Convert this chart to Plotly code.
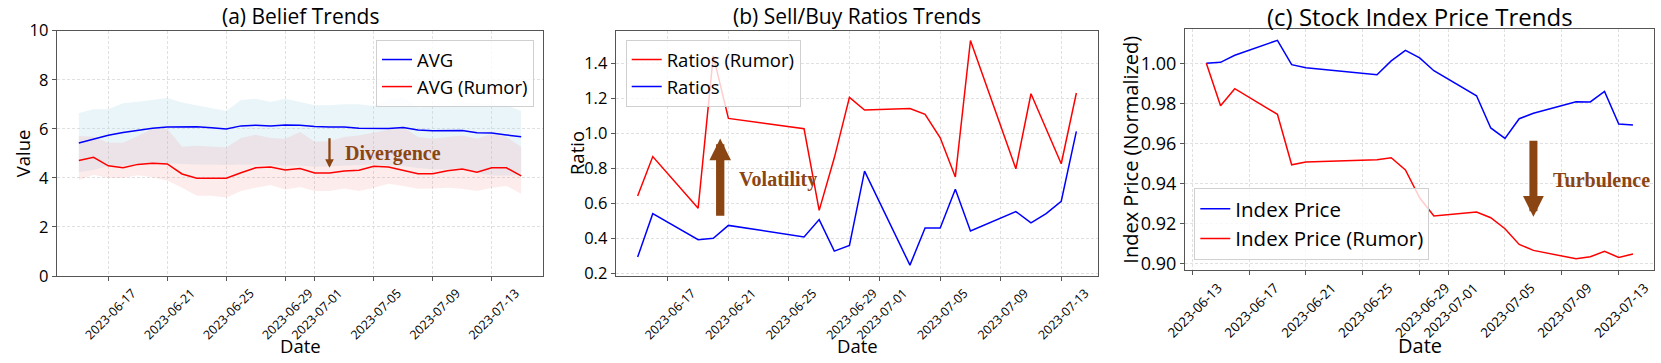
import plotly.graph_objects as go

# ---------------- data ----------------
DATES_A = [
    '2023-06-15', '2023-06-16', '2023-06-17', '2023-06-18', '2023-06-19', '2023-06-20',
    '2023-06-21', '2023-06-22', '2023-06-23', '2023-06-24', '2023-06-25', '2023-06-26',
    '2023-06-27', '2023-06-28', '2023-06-29', '2023-06-30', '2023-07-01', '2023-07-02',
    '2023-07-03', '2023-07-04', '2023-07-05', '2023-07-06', '2023-07-07', '2023-07-08',
    '2023-07-09', '2023-07-10', '2023-07-11', '2023-07-12', '2023-07-13', '2023-07-14',
    '2023-07-15',
]
AVG = [5.42, 5.58, 5.74, 5.85, 5.95, 6.02, 6.07, 6.08, 6.08, 6.04, 5.99, 6.12, 6.15, 6.12, 6.16,
       6.15, 6.09, 6.07, 6.07, 6.02, 6.01, 6.01, 6.05, 5.95, 5.92, 5.91, 5.93, 5.84, 5.83, 5.75, 5.68]
AVG_UPPER = [6.64, 6.80, 6.80, 7.04, 7.10, 7.17, 7.26, 7.07, 6.96, 6.87, 6.73, 7.17, 7.23, 7.09, 7.23,
             7.09, 6.96, 6.96, 7.00, 7.00, 6.93, 7.20, 7.30, 6.87, 6.93, 6.93, 7.04, 7.04, 7.00, 6.96, 6.73]
AVG_LOWER = [4.24, 4.32, 4.49, 4.50, 4.55, 4.60, 4.60, 4.57, 4.55, 4.55, 4.52, 4.55, 4.55, 4.52, 4.50,
             4.50, 4.45, 4.48, 4.50, 4.52, 4.55, 4.50, 4.48, 4.40, 4.35, 4.35, 4.40, 4.20, 4.10, 4.10, 4.12]
AVG_RUMOR = [4.71, 4.84, 4.49, 4.41, 4.55, 4.60, 4.57, 4.16, 3.99, 3.99, 3.99, 4.21, 4.41, 4.44, 4.32,
             4.38, 4.20, 4.20, 4.28, 4.31, 4.47, 4.44, 4.29, 4.17, 4.17, 4.29, 4.36, 4.23, 4.41, 4.41, 4.08]
RUMOR_UPPER = [5.71, 5.68, 5.43, 5.43, 5.71, 6.00, 6.00, 5.27, 5.31, 5.27, 5.24, 5.63, 5.76, 5.63, 5.60,
               5.87, 5.47, 5.49, 5.67, 5.73, 5.84, 5.93, 6.07, 5.67, 5.60, 5.67, 5.73, 5.60, 5.80, 5.67, 5.27]
RUMOR_LOWER = [3.90, 4.13, 4.00, 4.00, 4.11, 4.03, 3.89, 3.60, 3.27, 3.27, 3.20, 3.47, 3.60, 3.71, 3.53,
               3.63, 3.47, 3.47, 3.57, 3.47, 3.60, 3.76, 3.67, 3.56, 3.57, 3.60, 3.56, 3.47, 3.60, 3.67, 3.35]

DATES_B = [
    '2023-06-15', '2023-06-16', '2023-06-19', '2023-06-20', '2023-06-21', '2023-06-26',
    '2023-06-27', '2023-06-28', '2023-06-29', '2023-06-30', '2023-07-03', '2023-07-04',
    '2023-07-05', '2023-07-06', '2023-07-07', '2023-07-10', '2023-07-11', '2023-07-12',
    '2023-07-13', '2023-07-14',
]
RATIOS_RUMOR = [0.642, 0.867, 0.572, 1.442, 1.085, 1.026, 0.560, 0.86, 1.205, 1.133,
                1.142, 1.108, 0.974, 0.751, 1.530, 0.797, 1.226, 1.03, 0.826, 1.230]
RATIOS = [0.293, 0.541, 0.392, 0.400, 0.474, 0.408, 0.507, 0.327, 0.360, 0.784,
          0.247, 0.459, 0.459, 0.680, 0.442, 0.553, 0.488, 0.541, 0.612, 1.011]

DATES_C = ['2023-06-14'] + DATES_B
INDEX_PRICE = [1.000, 1.0005, 1.004, 1.0115, 0.9993, 0.9978, 0.9943, 1.0012, 1.0065, 1.0027, 0.9963,
               0.9838, 0.9677, 0.9625, 0.9723, 0.9750, 0.9808, 0.9807, 0.9860, 0.9697, 0.9692]
INDEX_RUMOR = [1.000, 0.9788, 0.9873, 0.9745, 0.9493, 0.9507, 0.9518, 0.9528, 0.9467, 0.9328, 0.9237,
               0.9257, 0.9228, 0.9173, 0.9095, 0.9065, 0.9023, 0.9033, 0.9060, 0.9030, 0.9047]

TICK_DATES = ['2023-06-13', '2023-06-17', '2023-06-21', '2023-06-25', '2023-06-29',
              '2023-07-01', '2023-07-05', '2023-07-09', '2023-07-13']

# ---------------- layout constants ----------------
W, H = 1661, 363
FONT = 'Open Sans'
BROWN = '#8B4513'
SPINE = '#555555'
GRID = '#e0e0e0'


def px_x(v):
    return v / W


def px_y(v):
    return (H - v) / H


# panel boxes in pixels: (left, right, top, bottom)
BOX_A = (56.7, 543.3, 30.7, 276.0)
BOX_B = (615.7, 1098.3, 30.7, 276.0)
BOX_C = (1185.0, 1654.3, 29.3, 270.0)

# per-panel font sizes
SIZES_AB = dict(title=21, label=18.5, ytick=16.5, xtick=12.5, legend=18.5)
SIZES_C = dict(title=24, label=20, ytick=18, xtick=13.4, legend=20.5)

fig = go.Figure()

# (a) belief bands + lines
fig.add_trace(go.Scatter(x=DATES_A, y=AVG_LOWER, mode='lines', line=dict(width=0),
                         showlegend=False, hoverinfo='skip', xaxis='x', yaxis='y'))
fig.add_trace(go.Scatter(x=DATES_A, y=AVG_UPPER, mode='lines', line=dict(width=0),
                         fill='tonexty', fillcolor='rgba(173,216,230,0.25)',
                         showlegend=False, hoverinfo='skip', xaxis='x', yaxis='y'))
fig.add_trace(go.Scatter(x=DATES_A, y=RUMOR_LOWER, mode='lines', line=dict(width=0),
                         showlegend=False, hoverinfo='skip', xaxis='x', yaxis='y'))
fig.add_trace(go.Scatter(x=DATES_A, y=RUMOR_UPPER, mode='lines', line=dict(width=0),
                         fill='tonexty', fillcolor='rgba(240,128,128,0.15)',
                         showlegend=False, hoverinfo='skip', xaxis='x', yaxis='y'))
fig.add_trace(go.Scatter(x=DATES_A, y=AVG, mode='lines', name='AVG',
                         line=dict(color='blue', width=1.5), xaxis='x', yaxis='y', legend='legend'))
fig.add_trace(go.Scatter(x=DATES_A, y=AVG_RUMOR, mode='lines', name='AVG (Rumor)',
                         line=dict(color='red', width=1.5), xaxis='x', yaxis='y', legend='legend'))

# (b) sell/buy ratios
fig.add_trace(go.Scatter(x=DATES_B, y=RATIOS_RUMOR, mode='lines', name='Ratios (Rumor)',
                         line=dict(color='red', width=1.5), xaxis='x2', yaxis='y2', legend='legend2'))
fig.add_trace(go.Scatter(x=DATES_B, y=RATIOS, mode='lines', name='Ratios',
                         line=dict(color='blue', width=1.5), xaxis='x2', yaxis='y2', legend='legend2'))

# (c) index price
fig.add_trace(go.Scatter(x=DATES_C, y=INDEX_PRICE, mode='lines', name='Index Price',
                         line=dict(color='blue', width=1.5), xaxis='x3', yaxis='y3', legend='legend3'))
fig.add_trace(go.Scatter(x=DATES_C, y=INDEX_RUMOR, mode='lines', name='Index Price (Rumor)',
                         line=dict(color='red', width=1.5), xaxis='x3', yaxis='y3', legend='legend3'))


def xaxis_style(box, rng, anchor, size, shift):
    return dict(
        domain=[px_x(box[0]), px_x(box[1])], anchor=anchor, type='date', range=rng,
        tickvals=TICK_DATES, tickformat='%Y-%m-%d', tickangle=-45, ticklabelshift=shift,
        tickfont=dict(size=size, color='black', family=FONT),
        ticks='outside', ticklen=4, tickcolor=SPINE,
        showgrid=True, gridcolor=GRID, griddash='3px,2px', gridwidth=0.8,
        showline=True, mirror=True, linecolor=SPINE, linewidth=1,
        zeroline=False, automargin=False, fixedrange=True,
    )


def yaxis_style(box, rng, anchor, dtick, fmt, size):
    return dict(
        domain=[px_y(box[3]), px_y(box[2])], anchor=anchor, range=rng,
        dtick=dtick, tickformat=fmt,
        tickfont=dict(size=size, color='black', family=FONT),
        ticks='outside', ticklen=4, tickcolor=SPINE,
        showgrid=True, gridcolor=GRID, griddash='3px,2px', gridwidth=0.8,
        showline=True, mirror=True, linecolor=SPINE, linewidth=1,
        zeroline=False, automargin=False, fixedrange=True,
    )


def legend_style(size, **pos):
    return dict(
        font=dict(size=size, color='black', family=FONT),
        bgcolor='rgba(255,255,255,0.8)', bordercolor='#d0d0d0', borderwidth=1,
        xref='paper', yref='paper', traceorder='normal', **pos,
    )


annotations = []
panels = [
    (BOX_A, '(a) Belief Trends', 22, 'Value', SIZES_AB),
    (BOX_B, '(b) Sell/Buy Ratios Trends', 576.7, 'Ratio', SIZES_AB),
    (BOX_C, '(c) Stock Index Price Trends', 1131, 'Index Price (Normalized)', SIZES_C),
]
for box, title, ylab_x, ylab, sz in panels:
    xc = (box[0] + box[1]) / 2
    annotations.append(dict(text=title, x=px_x(xc), y=px_y(16.5),
                            xref='paper', yref='paper', xanchor='center', yanchor='middle',
                            showarrow=False, font=dict(size=sz['title'], color='black', family=FONT)))
    annotations.append(dict(text='Date', x=px_x(xc), y=px_y(345),
                            xref='paper', yref='paper', xanchor='center', yanchor='middle',
                            showarrow=False, font=dict(size=sz['label'], color='black', family=FONT)))
    annotations.append(dict(text=ylab, x=px_x(ylab_x), y=px_y((box[2] + box[3]) / 2),
                            xref='paper', yref='paper', xanchor='center', yanchor='middle',
                            textangle=-90, showarrow=False,
                            font=dict(size=sz['label'], color='black', family=FONT)))

label_font = dict(size=20, color=BROWN, family='Liberation Serif, Times New Roman, serif', weight='bold')

# (a) divergence arrow + label
annotations.append(dict(x='2023-07-02', y=4.41, ax='2023-07-02', ay=5.68,
                        xref='x', yref='y', axref='x', ayref='y', text='', showarrow=True,
                        arrowhead=2, arrowsize=0.75, arrowwidth=2.3, arrowcolor=BROWN))
annotations.append(dict(x='2023-07-02 22:00', y=4.99, xref='x', yref='y', text='Divergence',
                        xanchor='left', yanchor='middle', showarrow=False, font=label_font))
# (b) volatility arrow + label
annotations.append(dict(x='2023-06-20 11:00', y=0.97, ax='2023-06-20 11:00', ay=0.52,
                        xref='x2', yref='y2', axref='x2', ayref='y2', text='', showarrow=True,
                        arrowhead=2, arrowsize=0.52, arrowwidth=8.3, arrowcolor=BROWN))
annotations.append(dict(x='2023-06-21 14:00', y=0.734, xref='x2', yref='y2', text='Volatility',
                        xanchor='left', yanchor='middle', showarrow=False, font=label_font))
# (c) turbulence arrow + label
annotations.append(dict(x='2023-07-07', y=0.9233, ax='2023-07-07', ay=0.962,
                        xref='x3', yref='y3', axref='x3', ayref='y3', text='', showarrow=True,
                        arrowhead=2, arrowsize=0.52, arrowwidth=8.0, arrowcolor=BROWN))
annotations.append(dict(x='2023-07-08 05:00', y=0.9417, xref='x3', yref='y3', text='Turbulence',
                        xanchor='left', yanchor='middle', showarrow=False, font=label_font))

fig.update_layout(
    template='none',
    width=W, height=H,
    margin=dict(l=0, r=0, t=0, b=0),
    paper_bgcolor='white', plot_bgcolor='white',
    font=dict(family=FONT, color='black'),
    xaxis=xaxis_style(BOX_A, ['2023-06-13 12:00', '2023-07-16 12:00'], 'y', SIZES_AB['xtick'], 24),
    yaxis=yaxis_style(BOX_A, [0, 10], 'x', 2, 'd', SIZES_AB['ytick']),
    xaxis2=xaxis_style(BOX_B, ['2023-06-13 13:12', '2023-07-15 10:48'], 'y2', SIZES_AB['xtick'], 24),
    yaxis2=yaxis_style(BOX_B, [0.185, 1.586], 'x2', 0.2, '.1f', SIZES_AB['ytick']),
    xaxis3=xaxis_style(BOX_C, ['2023-06-12 12:00', '2023-07-15 12:00'], 'y3', SIZES_C['xtick'], 26),
    yaxis3=yaxis_style(BOX_C, [0.8967, 1.017], 'x3', 0.02, '.2f', SIZES_C['ytick']),
    legend=legend_style(SIZES_AB['legend'], x=px_x(534), y=px_y(40), xanchor='right', yanchor='top'),
    legend2=legend_style(SIZES_AB['legend'], x=px_x(625.7), y=px_y(40), xanchor='left', yanchor='top'),
    legend3=legend_style(SIZES_C['legend'], x=px_x(1194.3), y=px_y(260), xanchor='left', yanchor='bottom'),
    annotations=annotations,
    showlegend=True,
)

# the page body has a default 8px margin; drop it so the figure fills the window
fig.write_html('out.html', config={'displayModeBar': False},
               post_script="document.body.style.margin='0px';"
                           "document.documentElement.style.overflow='hidden';")
